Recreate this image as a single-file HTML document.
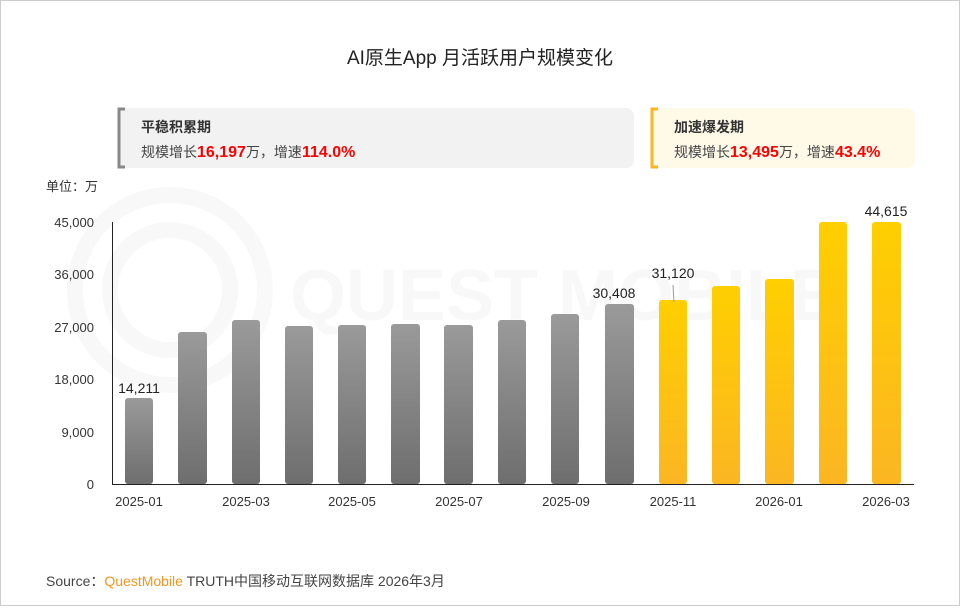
<!DOCTYPE html>
<html><head><meta charset="utf-8"><style>
body{margin:0;width:960px;height:606px;overflow:hidden;background:#fff;font-family:"Liberation Sans","Noto Sans CJK SC",sans-serif;}
</style></head><body>
<svg width="960" height="606" xmlns="http://www.w3.org/2000/svg" font-family="Liberation Sans, Noto Sans CJK SC, sans-serif">
<defs>
<linearGradient id="g" x1="0" y1="0" x2="0" y2="1"><stop offset="0" stop-color="#9a9a9a"/><stop offset="1" stop-color="#6e6e6e"/></linearGradient>
<linearGradient id="y" x1="0" y1="0" x2="0" y2="1"><stop offset="0" stop-color="#ffcf00"/><stop offset="1" stop-color="#fbb622"/></linearGradient>
</defs>
<rect x="0.5" y="0.5" width="959" height="605" fill="#fff" stroke="#ccc"/>
<text x="480" y="64" text-anchor="middle" font-size="19" fill="#222">AI原生App 月活跃用户规模变化</text>
<g opacity="0.025" fill="none" stroke="#000" stroke-width="16"><circle cx="170" cy="290" r="95"/><circle cx="170" cy="290" r="60"/></g>
<text x="290" y="320" font-size="72" fill="#000" opacity="0.025" font-weight="bold">QUEST MOBILE</text>
<rect x="118" y="108" width="516" height="60" rx="8" fill="#f2f2f2"/>
<path d="M125,109 H119 V167 H125" fill="none" stroke="#888" stroke-width="3"/>
<text x="141" y="132" font-size="14" font-weight="bold" fill="#333">平稳积累期</text>
<text x="141" y="157" font-size="14" fill="#444">规模增长<tspan fill="#f00" font-weight="bold" font-size="16">16,197</tspan>万，增速<tspan fill="#f00" font-weight="bold" font-size="16">114.0%</tspan></text>
<rect x="651" y="108" width="264" height="60" rx="8" fill="#fff9e8"/>
<path d="M658,109 H652 V167 H658" fill="none" stroke="#fbb622" stroke-width="3"/>
<text x="674" y="132" font-size="14" font-weight="bold" fill="#333">加速爆发期</text>
<text x="674" y="157" font-size="14" fill="#444">规模增长<tspan fill="#f00" font-weight="bold" font-size="16">13,495</tspan>万，增速<tspan fill="#f00" font-weight="bold" font-size="16">43.4%</tspan></text>
<text x="46" y="191" font-size="13" fill="#333">单位：万</text>
<g font-size="13" fill="#333" text-anchor="end">
<text x="94" y="227">45,000</text><text x="94" y="279">36,000</text><text x="94" y="332">27,000</text><text x="94" y="384">18,000</text><text x="94" y="437">9,000</text><text x="94" y="489">0</text>
</g>
<line x1="112.5" y1="222" x2="112.5" y2="484" stroke="#222"/>
<line x1="112" y1="484.5" x2="914" y2="484.5" stroke="#222"/>
<g>
<rect x="125" y="398" width="28" height="86" rx="3" fill="url(#g)"/>
<rect x="178" y="332" width="29" height="152" rx="3" fill="url(#g)"/>
<rect x="232" y="320" width="28" height="164" rx="3" fill="url(#g)"/>
<rect x="285" y="326" width="28" height="158" rx="3" fill="url(#g)"/>
<rect x="338" y="325" width="28" height="159" rx="3" fill="url(#g)"/>
<rect x="391" y="324" width="29" height="160" rx="3" fill="url(#g)"/>
<rect x="444" y="325" width="29" height="159" rx="3" fill="url(#g)"/>
<rect x="498" y="320" width="28" height="164" rx="3" fill="url(#g)"/>
<rect x="551" y="314" width="28" height="170" rx="3" fill="url(#g)"/>
<rect x="605" y="304" width="29" height="180" rx="3" fill="url(#g)"/>
<rect x="659" y="300" width="28" height="184" rx="3" fill="url(#y)"/>
<rect x="712" y="286" width="28" height="198" rx="3" fill="url(#y)"/>
<rect x="765" y="279" width="29" height="205" rx="3" fill="url(#y)"/>
<rect x="819" y="222" width="28" height="262" rx="3" fill="url(#y)"/>
<rect x="872" y="222" width="29" height="262" rx="3" fill="url(#y)"/>
</g>
<line x1="673" y1="285" x2="674" y2="302" stroke="#999"/>
<g font-size="14" fill="#222" text-anchor="middle">
<text x="139" y="393">14,211</text><text x="614" y="298">30,408</text><text x="673" y="278">31,120</text><text x="886" y="216">44,615</text>
</g>
<g font-size="13" fill="#333" text-anchor="middle">
<text x="139" y="506">2025-01</text><text x="246" y="506">2025-03</text><text x="352" y="506">2025-05</text><text x="459" y="506">2025-07</text><text x="566" y="506">2025-09</text><text x="673" y="506">2025-11</text><text x="779" y="506">2026-01</text><text x="886" y="506">2026-03</text>
</g>
<text x="46" y="586" font-size="14" fill="#444">Source：<tspan fill="#f7941d">QuestMobile</tspan> TRUTH中国移动互联网数据库 2026年3月</text>
</svg>
</body></html>
